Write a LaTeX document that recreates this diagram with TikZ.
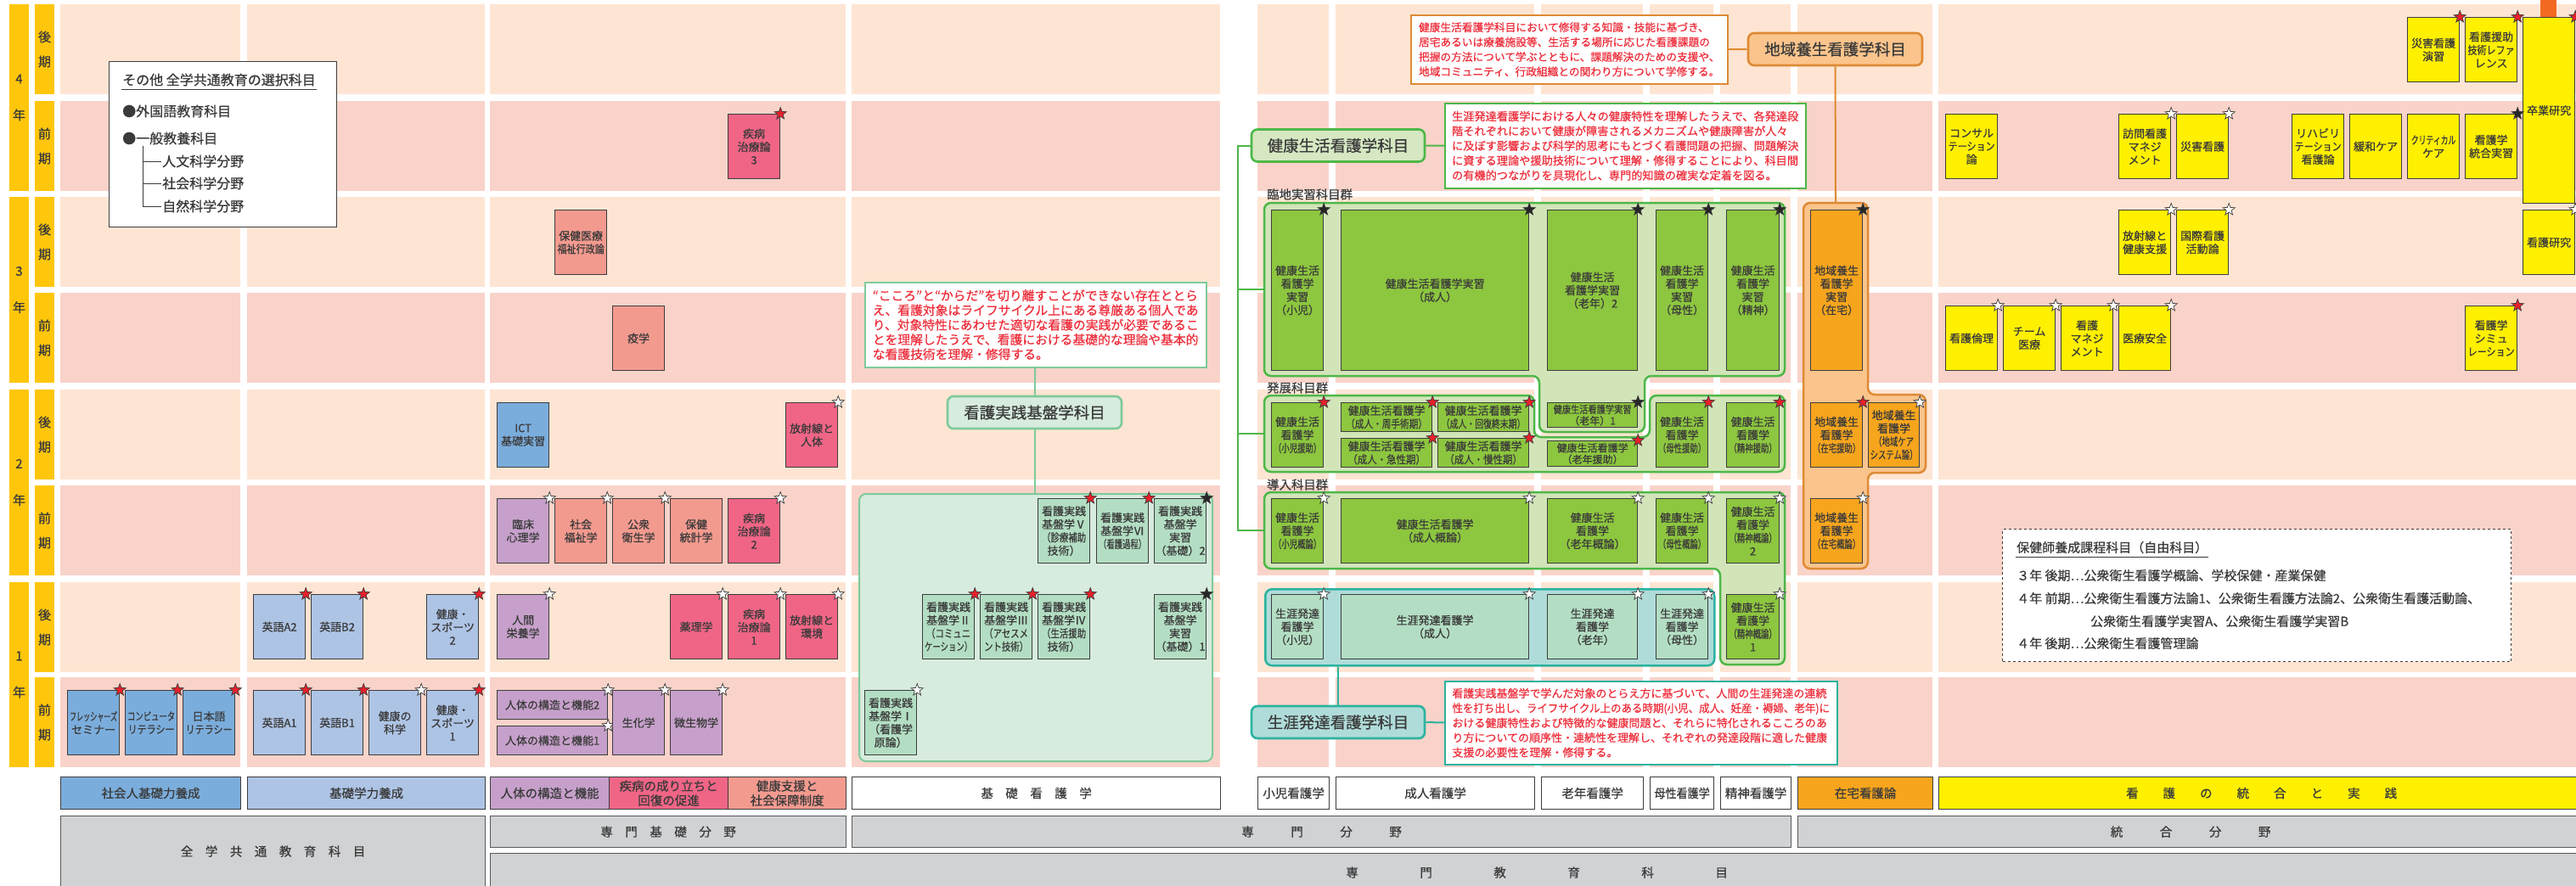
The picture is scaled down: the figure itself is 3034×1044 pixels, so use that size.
\documentclass[tikz,border=0pt]{standalone}
\usepackage{fontspec}
\usepackage{graphicx}
\setmainfont{Noto Sans CJK JP}[FakeBold=0.6]
\usetikzlibrary{shapes.geometric}

\definecolor{gold}{HTML}{FFC60B}
\definecolor{kouki}{HTML}{FEE5D3}
\definecolor{zenki}{HTML}{F9D3C9}
\definecolor{ablue}{HTML}{7BADDC}
\definecolor{bblue}{HTML}{AEC4E5}
\definecolor{purp}{HTML}{C6A0CA}
\definecolor{salm}{HTML}{F39A8F}
\definecolor{rose}{HTML}{F06586}
\definecolor{mint}{HTML}{B3DEC3}
\definecolor{kjfill}{HTML}{D7ECDE}
\definecolor{kjline}{HTML}{7FCA99}
\definecolor{leaf}{HTML}{8DC63F}
\definecolor{kfill}{HTML}{D2E5B9}
\definecolor{klabfill}{HTML}{D5E8C2}
\definecolor{kgreen}{HTML}{4DB748}
\definecolor{tfill}{HTML}{AFDCD9}
\definecolor{tline}{HTML}{2BB39F}
\definecolor{ora}{HTML}{F7A51D}
\definecolor{zfill}{HTML}{FBC48C}
\definecolor{zline}{HTML}{DE8A33}
\definecolor{yel}{HTML}{FFF000}
\definecolor{gry}{HTML}{D1D2D4}
\definecolor{gline}{HTML}{58595B}
\definecolor{redtxt}{HTML}{EE2F3C}
\definecolor{txt}{HTML}{3A3A3A}
\definecolor{boxline}{HTML}{3D3D3D}
\definecolor{starred}{HTML}{E8202A}
\definecolor{tab}{HTML}{F26A22}

\newcommand{\sqz}[2][.8]{\scalebox{#1}[1]{#2}}

\tikzset{
  subj/.style={draw=boxline,line width=1.2,inner sep=0,align=center,anchor=north west,
    text=txt,font=\fontsize{13}{15.5}\selectfont,minimum width=61,minimum height=76},
  tall/.style={minimum height=189},
  half/.style={minimum height=34},
  tight/.style={font=\fontsize{12}{13.5}\selectfont},
  star5/.style={star,star points=5,star point ratio=2.4,minimum size=15,inner sep=0,
    draw=boxline,line width=0.7,anchor=center},
  rs/.style={label={[star5,fill=starred]north east:}},
  ws/.style={label={[star5,fill=white]north east:}},
  bs/.style={label={[star5,fill=black!85]north east:}},
  yr/.style={fill=gold,minimum width=23,inner sep=0,align=center,text=txt,
    font=\fontsize{15}{43}\selectfont},
  sem/.style={fill=gold,minimum width=23,minimum height=106,inner sep=0,align=center,
    text=txt,font=\fontsize{15}{29}\selectfont},
  area/.style={draw=boxline,line width=1.2,anchor=north west,inner sep=0,align=center,
    text=txt,minimum height=38,font=\fontsize{14.5}{17}\selectfont},
  field/.style={area,fill=gry,draw=gline,minimum height=37},
  rtext/.style={line width=1.5,fill=white,text=redtxt,align=left,anchor=north west,
    inner xsep=8,inner ysep=0},
  head/.style={rounded corners=7,line width=2.6,inner sep=0,text=txt,minimum height=38,
    font=\fontsize{18.5}{18.5}\selectfont},
  grp/.style={line width=2.5,rounded corners=8},
  grplab/.style={anchor=west,inner sep=0,text=txt,font=\fontsize{14.4}{14.4}\selectfont},
  tree/.style={line width=2},
  note/.style={anchor=west,inner sep=1,text=txt,font=\fontsize{16}{16}\selectfont},
  hnote/.style={anchor=west,inner sep=1,text=txt,font=\fontsize{15}{15}\selectfont},
}

\begin{document}
\begin{tikzpicture}[x=1pt,y=-1pt]
\useasboundingbox (0,0) rectangle (3034,1044);

\foreach \y/\col in {5/kouki,119/zenki,232/kouki,345/zenki,459/kouki,572/zenki,686/kouki,798/zenki}
  \foreach \a/\b in {71/283,291/571,577/996,1003/1437,1481/1565,1573/1807,1815/1935,1943/2018,2026/2109,2117/2276,2283/3034}
    \fill[\col] (\a,\y) rectangle (\b,\y+106);
\foreach \ya/\yb/\t in {5/225/4,232/451/3,459/678/2,686/904/1}
  \node[yr,minimum height=\yb-\ya] (year\t) at (22.5,{(\ya+\yb)/2}) {\t\\年};
\foreach \y/\t/\n in {5/後/4b,119/前/4a,232/後/3b,345/前/3a,459/後/2b,572/前/2a,686/後/1b,798/前/1a}
  \node[sem] (sem\n) at (52.5,\y+53) {\t\\期};

\node[draw=boxline,line width=1.2,fill=white,anchor=north west,minimum width=268,minimum height=195,inner sep=0] (sonota) at (128,72) {};
\node[note,inner ysep=4] (sonotaT) at (143,94) {その他 全学共通教育の選択科目};
\draw[txt,line width=1] (sonotaT.south west) -- (sonotaT.south east);
\node[note] (gaikoku) at (143,131) {●外国語教育科目};
\node[note] (ippan) at (143,163) {●一般教養科目};
\node[note] (jinbun) at (190,190) {人文科学分野};
\node[note] (shakai) at (190,216) {社会科学分野};
\node[note] (shizen) at (190,243) {自然科学分野};
\draw[txt,line width=1] (ippan.south west) ++(25,0) |- (shizen.west);
\draw[txt,line width=1] (ippan.south west) ++(25,0) |- (jinbun.west);
\draw[txt,line width=1] (ippan.south west) ++(25,0) |- (shakai.west);

\node[subj,fill=ablue,rs] (fresh) at (79,813) {\sqz[.62]{フレッシャーズ}\\セミナー};
\node[subj,fill=ablue,rs] (comp) at (147,813) {\sqz[.72]{コンピュータ}\\\sqz[.85]{リテラシー}};
\node[subj,fill=ablue,rs] (nihon) at (215,813) {日本語\\\sqz[.85]{リテラシー}};

\node[subj,fill=bblue,rs] (eiA2) at (298,700) {英語A2};
\node[subj,fill=bblue,rs] (eiB2) at (366,700) {英語B2};
\node[subj,fill=bblue,rs] (kspo2) at (502,700) {健康・\\スポーツ\\2};
\node[subj,fill=bblue,rs] (eiA1) at (298,813) {英語A1};
\node[subj,fill=bblue,rs] (eiB1) at (366,813) {英語B1};
\node[subj,fill=bblue,ws] (kkag) at (434,813) {健康の\\科学};
\node[subj,fill=bblue,rs] (kspo1) at (502,813) {健康・\\スポーツ\\1};

\node[subj,fill=rose,rs] (shichi3) at (857,134) {疾病\\治療論\\3};
\node[subj,fill=salm] (hoken) at (653,247) {保健医療\\\sqz[.85]{福祉行政論}};
\node[subj,fill=salm] (ekigaku) at (721,360) {疫学};
\node[subj,fill=ablue] (ict) at (585,474) {ICT\\基礎実習};
\node[subj,fill=rose,ws] (houjin) at (925,474) {放射線と\\人体};
\node[subj,fill=purp,ws] (rinshin) at (585,587) {臨床\\心理学};
\node[subj,fill=salm,ws] (shafuku) at (653,587) {社会\\福祉学};
\node[subj,fill=salm,ws] (koshu) at (721,587) {公衆\\衛生学};
\node[subj,fill=salm] (hotou) at (789,587) {保健\\統計学};
\node[subj,fill=rose,ws] (shichi2) at (857,587) {疾病\\治療論\\2};
\node[subj,fill=purp,ws] (ningen) at (585,700) {人間\\栄養学};
\node[subj,fill=rose,ws] (yakuri) at (789,700) {薬理学};
\node[subj,fill=rose,ws] (shichi1) at (857,700) {疾病\\治療論\\1};
\node[subj,fill=rose,ws] (houkan) at (925,700) {放射線と\\環境};
\node[subj,fill=purp,ws,half,minimum width=130] (jintai2) at (585,813) {人体の構造と機能2};
\node[subj,fill=purp,ws,half,minimum width=130] (jintai1) at (585,855) {人体の構造と機能1};
\node[subj,fill=purp,ws] (seika) at (721,813) {生化学};
\node[subj,fill=purp,ws] (biseibutsu) at (789,813) {微生物学};

\node[draw=kjline,fill=kjfill,rounded corners=8,line width=2,anchor=north west,minimum width=416,minimum height=315,inner sep=0] (kjg) at (1011,581) {};
\node[rtext,draw=kjline,minimum width=402,minimum height=100,font=\fontsize{14.8}{17.3}\selectfont] (kjtext) at (1018,332) {“こころ”と“からだ”を切り離すことができない存在ととら\\え、看護対象はライフサイクル上にある尊厳ある個人であ\\り、対象特性にあわせた適切な看護の実践が必要であるこ\\とを理解したうえで、看護における基礎的な理論や基本的\\な看護技術を理解・修得する。};
\node[head,fill=kjfill,draw=kjline,minimum width=205] (kjlab) at (1218.5,486) {看護実践基盤学科目};
\draw[tree,kjline] (kjtext) -- (kjlab);
\draw[tree,kjline] (kjlab) -- (kjlab |- kjg.north);
\node[subj,fill=mint,rs] (kj5) at (1222,587) {看護実践\\基盤学Ⅴ\\\sqz{（診療補助}\\技術）};
\node[subj,fill=mint,rs] (kj6) at (1291,587) {看護実践\\基盤学Ⅵ\\\sqz[.72]{（看護過程）}};
\node[subj,fill=mint,bs] (kjp2) at (1359,587) {看護実践\\基盤学\\実習\\（基礎）2};
\node[subj,fill=mint,rs] (kj2) at (1086,700) {看護実践\\基盤学Ⅱ\\\sqz{（コミュニ}\\\sqz[.72]{ケーション）}};
\node[subj,fill=mint,rs] (kj3) at (1154,700) {看護実践\\基盤学Ⅲ\\\sqz{（アセスメ}\\\sqz{ント技術）}};
\node[subj,fill=mint,rs] (kj4) at (1222,700) {看護実践\\基盤学Ⅳ\\\sqz{（生活援助}\\技術）};
\node[subj,fill=mint,bs] (kjp1) at (1359,700) {看護実践\\基盤学\\実習\\（基礎）1};
\node[subj,fill=mint,ws] (kj1) at (1018,813) {看護実践\\基盤学Ⅰ\\（看護学\\原論）};

\draw[grp,draw=kgreen,fill=kfill] (1489,239) -- (2102,239) -- (2102,443) -- (1937,443) -- (1937,509) -- (1813,509) -- (1813,443) -- (1489,443) -- cycle;
\draw[grp,draw=kgreen,fill=kfill] (1489,466) -- (1807,466) -- (1807,515) -- (1943,515) -- (1943,466) -- (2102,466) -- (2102,556) -- (1489,556) -- cycle;
\draw[grp,draw=kgreen,fill=kfill] (1489,580) -- (2102,580) -- (2102,783) -- (2026,783) -- (2026,670) -- (1489,670) -- cycle;
\node[grp,draw=tline,fill=tfill,anchor=north west,minimum width=529,minimum height=90,inner sep=0] (shougai) at (1489,693) {};
\coordinate (rinchiW) at (1489,341);
\coordinate (hattenW) at (1489,511);
\coordinate (dounyuW) at (1489,625);
\node[grplab] (rinchiL) at (1492,229) {臨地実習科目群};
\node[grplab] (hattenL) at (1492,457) {発展科目群};
\node[grplab] (dounyuL) at (1492,571) {導入科目群};

\node[rtext,draw=zline,minimum width=373,minimum height=81,font=\fontsize{12.7}{17.4}\selectfont] (t1) at (1661,17) {健康生活看護学科目において修得する知識・技能に基づき、\\居宅あるいは療養施設等、生活する場所に応じた看護課題の\\把握の方法について学ぶとともに、課題解決のための支援や、\\地域コミュニティ、行政組織との関わり方について学修する。};
\node[head,fill=zfill,draw=zline,minimum width=205] (clab) at (2161.5,58) {地域養生看護学科目};
\draw[tree,zline] (t1) -- (clab);
\node[head,fill=klabfill,draw=kgreen,minimum width=204] (klab) at (1576,171.5) {健康生活看護学科目};
\node[rtext,draw=kgreen,minimum width=425,minimum height=100,font=\fontsize{13.2}{17.4}\selectfont] (t2) at (1701,121) {生涯発達看護学における人々の健康特性を理解したうえで、各発達段\\階それぞれにおいて健康が障害されるメカニズムや健康障害が人々\\に及ぼす影響および科学的思考にもとづく看護問題の把握、問題解決\\に資する理論や援助技術について理解・修得することにより、科目間\\の有機的つながりを具現化し、専門的知識の確実な定着を図る。};
\draw[tree,kgreen] (klab) -- (t2);
\draw[tree,kgreen] (klab.west) -- ++(-15,0) |- (dounyuW);
\draw[tree,kgreen] (rinchiW) -- ++(-30,0);
\draw[tree,kgreen] (hattenW) -- ++(-30,0);

\node[subj,fill=leaf,tall,bs] (r1) at (1497,247) {健康生活\\看護学\\実習\\（小児）};
\node[subj,fill=leaf,tall,bs,minimum width=221] (r2) at (1579,247) {健康生活看護学実習\\（成人）};
\node[subj,fill=leaf,tall,bs,minimum width=106] (r3) at (1822,247) {健康生活\\看護学実習\\（老年）2};
\node[subj,fill=leaf,tall,bs] (r4) at (1950,247) {健康生活\\看護学\\実習\\（母性）};
\node[subj,fill=leaf,tall,bs,minimum width=62] (r5) at (2033,247) {健康生活\\看護学\\実習\\（精神）};

\node[subj,fill=leaf,rs] (h1) at (1497,474) {健康生活\\看護学\\\sqz[.72]{（小児援助）}};
\node[subj,fill=leaf,rs,half,minimum width=107] (h2) at (1579,474) {健康生活看護学\\\sqz[.82]{（成人・周手術期）}};
\node[subj,fill=leaf,rs,half,minimum width=107] (h3) at (1693,474) {健康生活看護学\\\sqz[.76]{（成人・回復終末期）}};
\node[subj,fill=leaf,rs,half,minimum width=107] (h4) at (1579,516) {健康生活看護学\\\sqz[.88]{（成人・急性期）}};
\node[subj,fill=leaf,rs,half,minimum width=107] (h5) at (1693,516) {健康生活看護学\\\sqz[.88]{（成人・慢性期）}};
\node[subj,fill=leaf,bs,tight,minimum height=29,minimum width=106] (h6) at (1822,474) {\sqz[.85]{健康生活看護学実習}\\（老年）1};
\node[subj,fill=leaf,rs,tight,minimum height=30,minimum width=106] (h7) at (1822,519) {健康生活看護学\\（老年援助）};
\node[subj,fill=leaf,rs] (h8) at (1950,474) {健康生活\\看護学\\\sqz[.72]{（母性援助）}};
\node[subj,fill=leaf,rs,minimum width=62] (h9) at (2033,474) {健康生活\\看護学\\\sqz[.72]{（精神援助）}};

\node[subj,fill=leaf,ws] (d1) at (1497,587) {健康生活\\看護学\\\sqz[.72]{（小児概論）}};
\node[subj,fill=leaf,ws,minimum width=221] (d2) at (1579,587) {健康生活看護学\\（成人概論）};
\node[subj,fill=leaf,ws,minimum width=106] (d3) at (1822,587) {健康生活\\看護学\\（老年概論）};
\node[subj,fill=leaf,ws] (d4) at (1950,587) {健康生活\\看護学\\\sqz[.72]{（母性概論）}};
\node[subj,fill=leaf,ws,minimum width=62] (d5) at (2033,587) {健康生活\\看護学\\\sqz[.72]{（精神概論）}\\2};
\node[subj,fill=leaf,ws,minimum width=62] (d6) at (2033,700) {健康生活\\看護学\\\sqz[.72]{（精神概論）}\\1};

\node[subj,fill=mint,ws] (s1) at (1497,700) {生涯発達\\看護学\\（小児）};
\node[subj,fill=mint,ws,minimum width=221] (s2) at (1579,700) {生涯発達看護学\\（成人）};
\node[subj,fill=mint,ws,minimum width=106] (s3) at (1822,700) {生涯発達\\看護学\\（老年）};
\node[subj,fill=mint,ws] (s4) at (1950,700) {生涯発達\\看護学\\（母性）};
\node[head,fill=tfill,draw=tline,minimum width=204] (slab) at (1576,851) {生涯発達看護学科目};
\node[rtext,draw=tline,minimum width=462,minimum height=98,font=\fontsize{13}{17.4}\selectfont] (t3) at (1701,802) {看護実践基盤学で学んだ対象のとらえ方に基づいて、人間の生涯発達の連続\\\sqz[.96]{性を打ち出し、ライフサイクル上のある時期(小児、成人、妊産・褥婦、老年)に}\\おける健康特性および特徴的な健康問題と、それらに特化されるこころのあ\\り方についての順序性・連続性を理解し、それぞれの発達段階に適した健康\\支援の必要性を理解・修得する。};
\draw[tree,tline] (slab) -- (t3);
\draw[tree,tline] (slab) -- (slab |- shougai.south);

\draw[grp,draw=zline,fill=zfill] (2124,239) -- (2200,239) -- (2200,465) -- (2268,465) -- (2268,557) -- (2200,557) -- (2200,670) -- (2124,670) -- cycle;
\coordinate (zaitakuN) at (2162,239);
\draw[tree,zline] (clab) -- (zaitakuN);
\node[subj,fill=ora,tall,bs] (z1) at (2132,247) {地域養生\\看護学\\実習\\（在宅）};
\node[subj,fill=ora,rs] (z2) at (2132,474) {地域養生\\看護学\\\sqz[.72]{（在宅援助）}};
\node[subj,fill=ora,ws,minimum width=60] (z3) at (2200,474) {地域養生\\看護学\\\sqz[.72]{（地域ケア}\\\sqz[.72]{システム論）}};
\node[subj,fill=ora,ws] (z4) at (2132,587) {地域養生\\看護学\\\sqz[.72]{（在宅概論）}};

\fill[tab] (2992,0) rectangle (3011,20);
\node[subj,fill=yel,rs] (saigaiE) at (2835,20) {災害看護\\演習};
\node[subj,fill=yel,rs] (refa) at (2903,20) {看護援助\\\sqz[.85]{技術レファ}\\レンス};
\node[subj,fill=yel,rs,minimum height=219] (sotsu) at (2971,20) {卒業研究};
\node[subj,fill=yel] (consul) at (2291,134) {コンサル\\\sqz[.85]{テーション}\\論};
\node[subj,fill=yel,ws] (houmon) at (2495,134) {訪問看護\\マネジ\\メント};
\node[subj,fill=yel,ws] (saigai) at (2563,134) {災害看護};
\node[subj,fill=yel] (riha) at (2699,134) {リハビリ\\\sqz[.85]{テーション}\\看護論};
\node[subj,fill=yel] (kanwa) at (2767,134) {緩和ケア};
\node[subj,fill=yel] (crit) at (2835,134) {\sqz[.68]{クリティカル}\\ケア};
\node[subj,fill=yel,bs] (tougouJ) at (2903,134) {看護学\\統合実習};
\node[subj,fill=yel,ws] (houkenko) at (2495,247) {放射線と\\健康支援};
\node[subj,fill=yel,ws] (kokusai) at (2563,247) {国際看護\\活動論};
\node[subj,fill=yel,ws] (kenkyu) at (2971,247) {看護研究};
\node[subj,fill=yel,ws] (rinri) at (2291,360) {看護倫理};
\node[subj,fill=yel,ws] (team) at (2359,360) {チーム\\医療};
\node[subj,fill=yel,ws] (kmanage) at (2427,360) {看護\\マネジ\\メント};
\node[subj,fill=yel,ws] (anzen) at (2495,360) {医療安全};
\node[subj,fill=yel,rs] (simu) at (2903,360) {看護学\\シミュ\\\sqz[.85]{レーション}};

\node[draw=boxline,dashed,line width=1.2,fill=white,anchor=north west,minimum width=599,minimum height=156,inner sep=0] (hokenshi) at (2358,623) {};
\node[hnote,inner ysep=4] (hokenT) at (2374,645) {保健師養成課程科目（自由科目）};
\draw[txt,line width=1] (hokenT.south west) -- (hokenT.south east);
\node[hnote] (hoken3) at (2374,678) {３年 後期…公衆衛生看護学概論、学校保健・産業保健};
\node[hnote] (hoken4a) at (2374,705) {４年 前期…公衆衛生看護方法論1、公衆衛生看護方法論2、公衆衛生看護活動論、};
\node[hnote] (hoken4b) at (2461,732) {公衆衛生看護学実習A、公衆衛生看護学実習B};
\node[hnote] (hoken4c) at (2374,758) {４年 後期…公衆衛生看護管理論};

\node[area,fill=ablue,minimum width=212] (shakaijin) at (71,915) {社会人基礎力養成};
\node[area,fill=bblue,minimum width=280] (kisogaku) at (291,915) {基礎学力養成};
\node[area,fill=purp,minimum width=140] (jintaiA) at (577,915) {人体の構造と機能};
\node[area,fill=rose,minimum width=140] (shippeiA) at (717,915) {疾病の成り立ちと\\回復の促進};
\node[area,fill=salm,minimum width=139] (kenkouA) at (857,915) {健康支援と\\社会保障制度};
\node[area,fill=white,minimum width=434] (kisokango) at (1003,915) {基　礎　看　護　学};
\node[area,fill=white,minimum width=84] (shoniA) at (1481,915) {小児看護学};
\node[area,fill=white,minimum width=234] (seijinA) at (1573,915) {成人看護学};
\node[area,fill=white,minimum width=120] (rounenA) at (1815,915) {老年看護学};
\node[area,fill=white,minimum width=75] (boseiA) at (1943,915) {\sqz[.9]{母性看護学}};
\node[area,fill=white,minimum width=83] (seishinA) at (2026,915) {精神看護学};
\node[area,fill=ora,minimum width=159] (zaitakuA) at (2117,915) {在宅看護論};
\node[area,fill=yel,minimum width=760] (tougouA) at (2283,915) {看　　護　　の　　統　　合　　と　　実　　践};

\node[field,minimum width=500,minimum height=83] (zengaku) at (71,961) {全　学　共　通　教　育　科　目};
\node[field,minimum width=419] (senkiso) at (577,961) {専　門　基　礎　分　野};
\node[field,minimum width=1106] (senmon) at (1003,961) {専　　　門　　　分　　　野};
\node[field,minimum width=925] (tougouF) at (2117,961) {統　　　合　　　分　　　野};
\node[field,minimum width=2465,minimum height=45] (senkyo) at (577,1005) {専　　　　　門　　　　　教　　　　　育　　　　　科　　　　　目};
\end{tikzpicture}
\end{document}
